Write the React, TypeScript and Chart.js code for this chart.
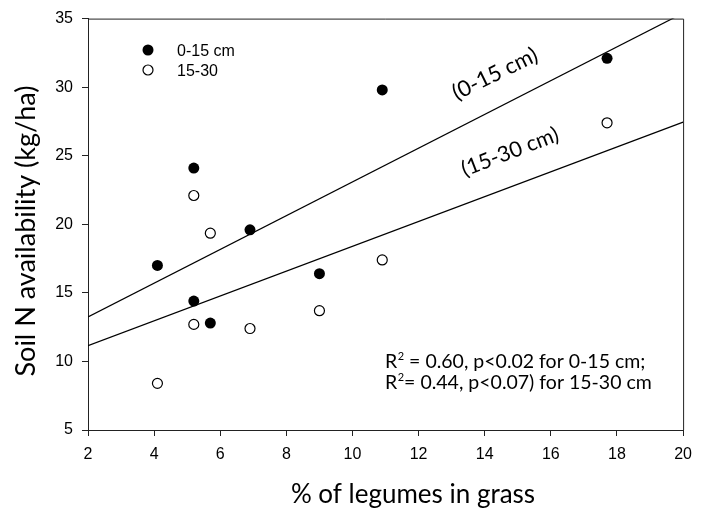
import React, { useEffect, useRef } from "react";
import { Chart, registerables } from "chart.js";

Chart.register(...registerables);

// Data
const legumes0to15 = [4.1, 5.2, 5.2, 5.7, 6.9, 9.0, 10.9, 17.7];
const soilN0to15 = [17.0, 24.1, 14.4, 12.8, 19.6, 16.4, 29.8, 32.1];
const legumes15to30 = [4.1, 5.2, 5.2, 5.7, 6.9, 9.0, 10.9, 17.7];
const soilN15to30 = [8.4, 22.1, 12.7, 19.35, 12.4, 13.7, 17.4, 27.4];
const fitX = [2, 20];
const fit0to15 = [13.25, 35.4];
const fit15to30 = [11.15, 27.45];
const xTickValues = [2, 4, 6, 8, 10, 12, 14, 16, 18, 20];
const yTickValues = [5, 10, 15, 20, 25, 30, 35];
const legendLabels = ["0-15 cm", "15-30"];
const lineLabels = ["(0-15 cm)", "(15-30 cm)"];
const statLines = [
  ["R", "2", " = 0.60, p<0.02 for 0-15 cm;"],
  ["R", "2", "= 0.44, p<0.07) for 15-30 cm"],
];
const xTitle = "% of legumes in grass";
const yTitle = "Soil N availability (kg/ha)";

const TEXT_FONT = "Lato, 'Open Sans', sans-serif";
const TICK_FONT = "'Liberation Sans', Arial, sans-serif";

const annotationPlugin = {
  id: "annotations",
  afterDraw(chart: any) {
    const { ctx, chartArea } = chart;
    ctx.save();
    // frame (top and right)
    ctx.strokeStyle = "#222";
    ctx.lineWidth = 1;
    ctx.beginPath();
    ctx.moveTo(chartArea.left, chartArea.top + 0.5);
    ctx.lineTo(chartArea.right + 0.5, chartArea.top + 0.5);
    ctx.lineTo(chartArea.right + 0.5, chartArea.bottom);
    ctx.stroke();

    ctx.fillStyle = "#000";
    // axis titles
    ctx.font = `26px ${TEXT_FONT}`;
    ctx.textAlign = "center";
    ctx.textBaseline = "alphabetic";
    ctx.fillText(xTitle, 413, 503);

    ctx.save();
    ctx.translate(35, 231);
    ctx.rotate(-Math.PI / 2);
    ctx.font = `27px ${TEXT_FONT}`;
    ctx.fillText(yTitle, 0, 0);
    ctx.restore();

    // legend
    ctx.beginPath();
    ctx.arc(148, 50, 5.5, 0, Math.PI * 2);
    ctx.fill();
    ctx.beginPath();
    ctx.arc(148, 70, 5, 0, Math.PI * 2);
    ctx.fillStyle = "#fff";
    ctx.fill();
    ctx.lineWidth = 1.2;
    ctx.strokeStyle = "#000";
    ctx.stroke();
    ctx.fillStyle = "#000";
    ctx.font = `16px ${TICK_FONT}`;
    ctx.textAlign = "left";
    ctx.textBaseline = "middle";
    ctx.fillText(legendLabels[0], 177, 52);
    ctx.fillText(legendLabels[1], 177, 72);

    // rotated line labels
    const drawRot = (t: string, x: number, y: number, deg: number, size: number) => {
      ctx.save();
      ctx.translate(x, y);
      ctx.rotate((-deg * Math.PI) / 180);
      ctx.font = `${size}px ${TEXT_FONT}`;
      ctx.textAlign = "center";
      ctx.textBaseline = "middle";
      ctx.fillText(t, 0, 0);
      ctx.restore();
    };
    drawRot(lineLabels[0], 495, 74, 26, 22);
    drawRot(lineLabels[1], 510, 152, 21, 21.5);

    // statistics text
    ctx.textAlign = "left";
    ctx.textBaseline = "alphabetic";
    statLines.forEach((parts, i) => {
      const y = 368 + i * 21;
      let x = 385;
      ctx.font = `19.5px ${TEXT_FONT}`;
      ctx.fillText(parts[0], x, y);
      x += ctx.measureText(parts[0]).width + 0.5;
      ctx.font = `11px ${TEXT_FONT}`;
      ctx.fillText(parts[1], x, y - 8);
      x += ctx.measureText(parts[1]).width;
      ctx.font = `19.5px ${TEXT_FONT}`;
      ctx.fillText(parts[2], x, y);
    });
    ctx.restore();
  },
};

export default function App() {
  const ref = useRef<HTMLCanvasElement | null>(null);
  useEffect(() => {
    if (!ref.current) return;
    const pts = (xs: number[], ys: number[]) => xs.map((x, i) => ({ x, y: ys[i] }));
    const chart = new Chart(ref.current, {
      type: "scatter",
      data: {
        datasets: [
          {
            label: "0-15 cm",
            data: pts(legumes0to15, soilN0to15),
            pointRadius: 5.5,
            pointBackgroundColor: "#000",
            pointBorderColor: "#000",
            pointBorderWidth: 0,
          },
          {
            label: "15-30",
            data: pts(legumes15to30, soilN15to30),
            pointRadius: 5,
            pointBackgroundColor: "#fff",
            pointBorderColor: "#000",
            pointBorderWidth: 1.2,
          },
          {
            label: "fit 0-15",
            data: pts(fitX, fit0to15),
            showLine: true,
            pointRadius: 0,
            borderColor: "#000",
            borderWidth: 1.2,
          },
          {
            label: "fit 15-30",
            data: pts(fitX, fit15to30),
            showLine: true,
            pointRadius: 0,
            borderColor: "#000",
            borderWidth: 1.2,
          },
        ],
      },
      options: {
        responsive: false,
        animation: false,
        events: [],
        layout: { padding: { top: 15, right: 13, left: 0, bottom: 0 } },
        plugins: { legend: { display: false }, tooltip: { enabled: false } },
        scales: {
          x: {
            type: "linear",
            min: 2,
            max: 20,
            afterBuildTicks: (s: any) => {
              s.ticks = xTickValues.map((v) => ({ value: v }));
            },
            afterFit: (s: any) => {
              s.height = 84;
            },
            ticks: {
              color: "#000",
              padding: 9,
              font: { family: TICK_FONT, size: 16 },
              maxRotation: 0,
            },
            grid: { drawOnChartArea: false, drawTicks: true, tickLength: 6, color: "#222", lineWidth: 1 },
            border: { display: true, color: "#222", width: 1 },
          },
          y: {
            type: "linear",
            min: 5,
            max: 35,
            afterBuildTicks: (s: any) => {
              s.ticks = yTickValues.map((v) => ({ value: v }));
            },
            afterFit: (s: any) => {
              s.width = 88;
            },
            ticks: {
              color: "#000",
              padding: 9,
              font: { family: TICK_FONT, size: 16 },
            },
            grid: { drawOnChartArea: false, drawTicks: true, tickLength: 6, color: "#222", lineWidth: 1 },
            border: { display: true, color: "#222", width: 1 },
          },
        },
      },
      plugins: [annotationPlugin],
    });
    return () => chart.destroy();
  }, []);
  return (
    <div style={{ position: "fixed", left: 0, top: 0, width: 701, height: 514, background: "#fff" }}>
      <canvas ref={ref} width={701} height={514} style={{ width: 701, height: 514, display: "block" }} />
    </div>
  );
}
